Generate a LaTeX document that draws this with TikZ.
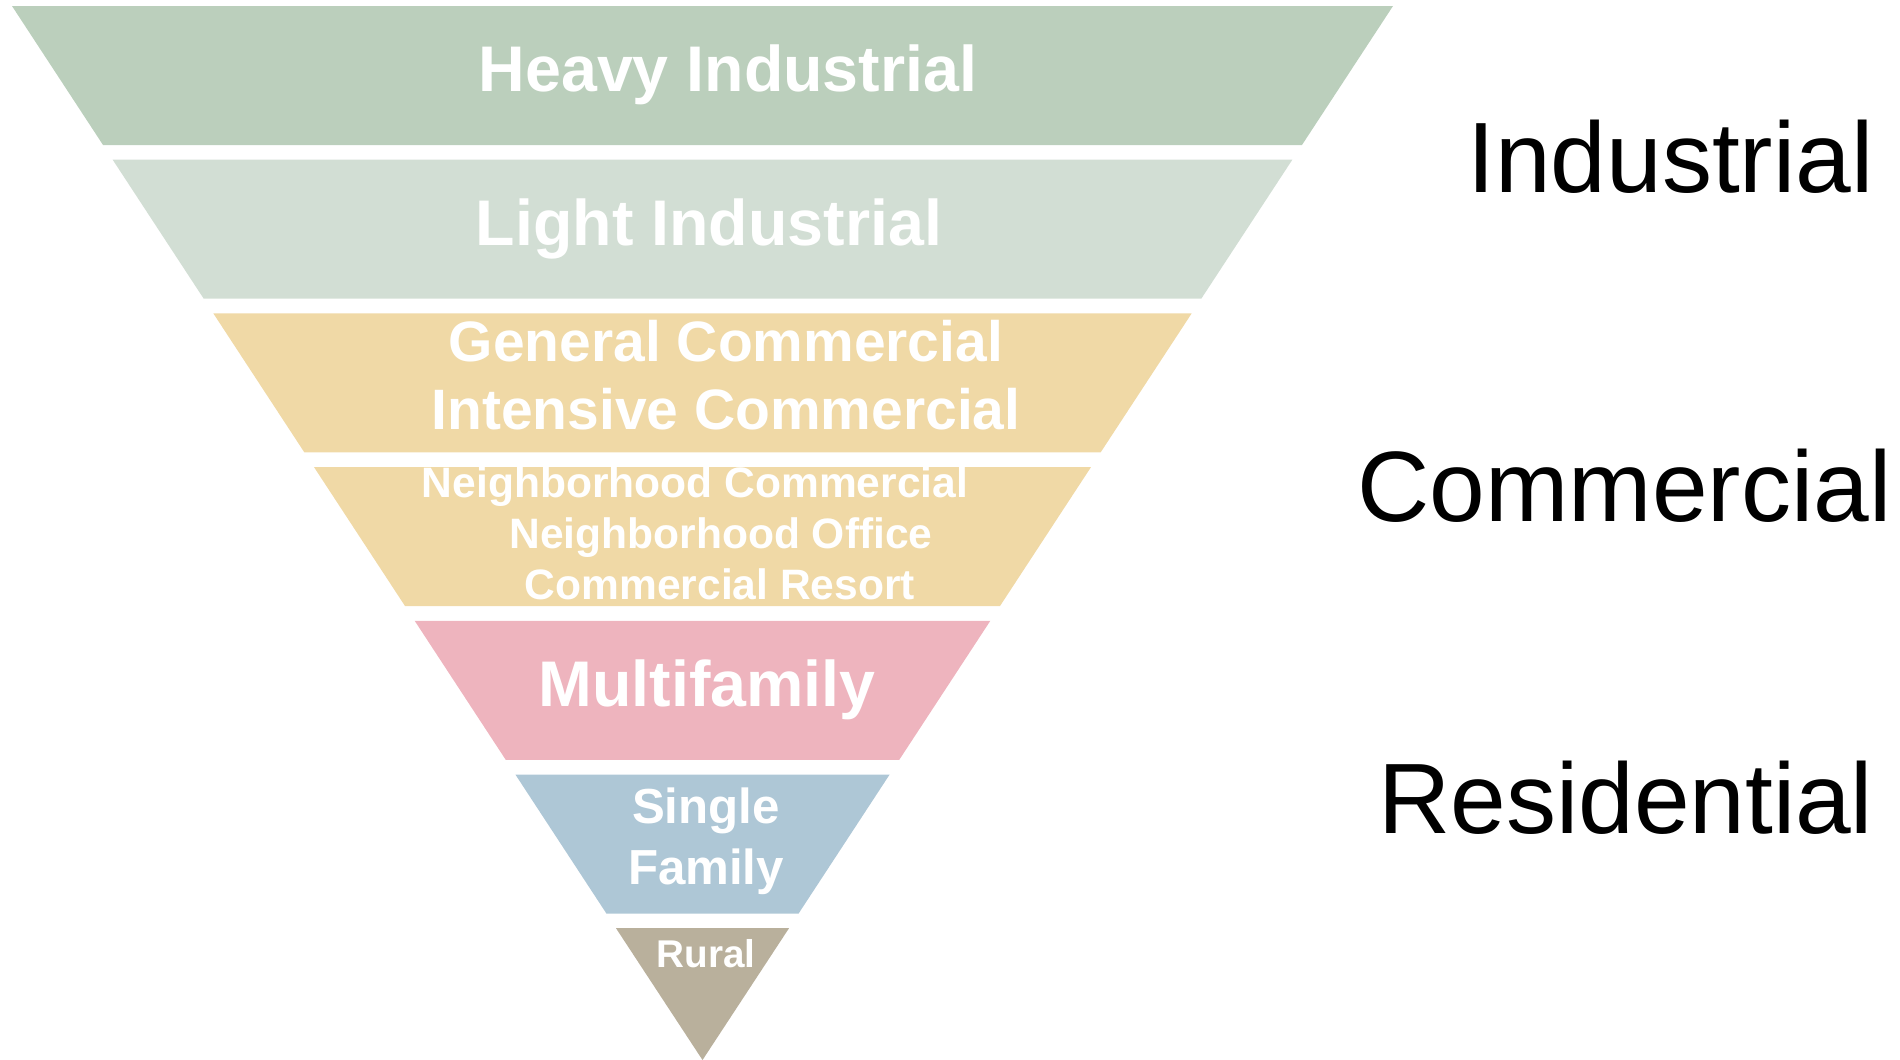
\documentclass[tikz,border=0pt]{standalone}
\usepackage{fontspec}
\setmainfont{Liberation Sans}
\definecolor{heavyclr}{RGB}{187,207,188}
\definecolor{lightclr}{RGB}{210,222,212}
\definecolor{commclr}{RGB}{240,217,166}
\definecolor{multiclr}{RGB}{238,180,190}
\definecolor{singleclr}{RGB}{174,199,214}
\definecolor{ruralclr}{RGB}{185,176,156}
\tikzset{
  lbl/.style={text=white,anchor=base,inner sep=0pt},
  zone/.style={anchor=base east,inner sep=0pt,font=\fontsize{28.45}{34}\selectfont}
}

\begin{document}
\begin{tikzpicture}[x=0.01cm,y=-0.01cm]
  \useasboundingbox (0,0) rectangle (1900,1059);
  % funnel bands
  \foreach \i/\clr in {0/heavyclr,1/lightclr,2/commclr,3/commclr,4/multiclr,5/singleclr} {
    \pgfmathsetmacro{\ytop}{6+153.7*\i}
    \pgfmathsetmacro{\ybot}{\ytop+139}
    \pgfmathsetmacro{\wtop}{690.5-0.655*(\ytop-6)}
    \pgfmathsetmacro{\wbot}{690.5-0.655*(\ybot-6)}
    \fill[\clr] (702.5-\wtop,\ytop) -- (702.5+\wtop,\ytop) -- (702.5+\wbot,\ybot) -- (702.5-\wbot,\ybot) -- cycle;
  }
  \fill[ruralclr] (616,928.2) -- (789,928.2) -- (702.5,1060) -- cycle;
  %
  \node[lbl,font=\bfseries\fontsize{18.35}{22}\selectfont] (heavy) at (728,91) {Heavy Industrial};
  \node[lbl,font=\bfseries\fontsize{18.35}{22}\selectfont] (light) at (709,245) {Light Industrial};
  \node[lbl,font=\bfseries\fontsize{16.2}{19}\selectfont] (general) at (726,361) {General Commercial};
  \node[lbl,font=\bfseries\fontsize{16.2}{19}\selectfont] (intensive) at (726,429) {Intensive Commercial};
  \node[lbl,font=\bfseries\fontsize{12.1}{14.5}\selectfont] (nbhdcomm) at (695,497) {Neighborhood Commercial};
  \node[lbl,font=\bfseries\fontsize{12.1}{14.5}\selectfont] (nbhdoffice) at (721,548) {Neighborhood Office};
  \node[lbl,font=\bfseries\fontsize{12.1}{14.5}\selectfont] (resort) at (720,599) {Commercial Resort};
  \node[lbl,font=\bfseries\fontsize{18.35}{22}\selectfont] (multi) at (707,706) {Multifamily};
  \node[lbl,font=\bfseries\fontsize{14}{17}\selectfont] (single) at (706,823) {Single};
  \node[lbl,font=\bfseries\fontsize{14}{17}\selectfont] (family) at (706,884) {Family};
  \node[lbl,font=\bfseries\fontsize{11}{13}\selectfont] (rural) at (706,967) {Rural};
  %
  \node[zone] (industrial) at (1874,192) {Industrial};
  \node[zone] (commercial) at (1892,521) {Commercial};
  \node[zone] (residential) at (1874,833) {Residential};
\end{tikzpicture}
\end{document}
